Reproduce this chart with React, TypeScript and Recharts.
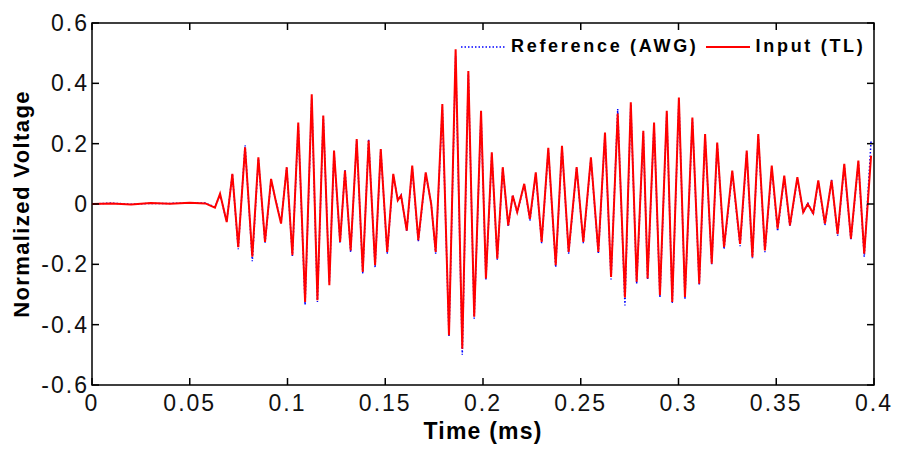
import React from "react";
import { LineChart, Line, XAxis, YAxis, ReferenceArea, Legend, Label } from "recharts";

// time in ms (peaks, troughs and the flat lead-in)
const time = [
  0, 0.01, 0.02, 0.03, 0.04, 0.05, 0.058, 0.0629, 0.0655, 0.0689,
  0.0718, 0.0748, 0.0783, 0.082, 0.0851, 0.0885, 0.0916, 0.094, 0.0967, 0.0996,
  0.1025, 0.1055, 0.109, 0.1124, 0.1153, 0.1183, 0.1214, 0.1238, 0.1269, 0.1294,
  0.1323, 0.1354, 0.1385, 0.1415, 0.1448, 0.1477, 0.151, 0.1541, 0.1564, 0.1581,
  0.161, 0.1638, 0.1669, 0.1707, 0.1735, 0.1758, 0.1792, 0.1826, 0.186, 0.1894,
  0.1925, 0.1955, 0.199, 0.2015, 0.2045, 0.2073, 0.2101, 0.2129, 0.2152, 0.2175,
  0.2211, 0.224, 0.227, 0.23, 0.2334, 0.2372, 0.2404, 0.2438, 0.2479, 0.2513,
  0.2552, 0.259, 0.2624, 0.2655, 0.2689, 0.2726, 0.2756, 0.2786, 0.282, 0.2842,
  0.2875, 0.2905, 0.294, 0.2968, 0.3002, 0.3033, 0.3071, 0.3106, 0.3136, 0.317,
  0.3198, 0.3233, 0.3275, 0.3315, 0.3349, 0.3378, 0.3408, 0.3442, 0.3477, 0.3507,
  0.3541, 0.357, 0.3608, 0.3638, 0.3661, 0.3689, 0.3715, 0.3749, 0.3783, 0.3814,
  0.3848, 0.3882, 0.392, 0.395, 0.3985,
];

const input = [
  0, 0.002, -0.002, 0.003, 0.001, 0.004, 0.002, -0.012, 0.034, -0.06,
  0.1, -0.143, 0.188, -0.175, 0.155, -0.126, 0.083, 0.01, -0.065, 0.122,
  -0.17, 0.27, -0.325, 0.364, -0.319, 0.293, -0.269, 0.177, -0.126, 0.111,
  -0.154, 0.215, -0.225, 0.21, -0.203, 0.182, -0.159, 0.1, 0.012, 0.028,
  -0.088, 0.127, -0.12, 0.105, 0.0, -0.159, 0.331, -0.435, 0.513, -0.48,
  0.441, -0.374, 0.309, -0.247, 0.171, -0.181, 0.122, -0.071, 0.028, -0.027,
  0.067, -0.049, 0.105, -0.126, 0.186, -0.203, 0.193, -0.159, 0.122, -0.126,
  0.155, -0.159, 0.237, -0.242, 0.3, -0.31, 0.337, -0.258, 0.243, -0.247,
  0.27, -0.302, 0.309, -0.325, 0.353, -0.308, 0.287, -0.264, 0.232, -0.198,
  0.204, -0.143, 0.111, -0.132, 0.177, -0.176, 0.232, -0.154, 0.127, -0.082,
  0.094, -0.071, 0.089, -0.027, 0.0, -0.03, 0.078, -0.065, 0.078, -0.099,
  0.133, -0.115, 0.144, -0.165, 0.16,
];

const reference = [
  0, 0.003, -0.001, 0.002, 0.002, 0.003, 0.003, -0.01, 0.03, -0.058,
  0.1, -0.15, 0.195, -0.19, 0.15, -0.13, 0.08, 0.012, -0.06, 0.12,
  -0.172, 0.26, -0.335, 0.35, -0.325, 0.29, -0.26, 0.17, -0.13, 0.115,
  -0.16, 0.21, -0.23, 0.215, -0.21, 0.18, -0.165, 0.095, 0.015, 0.03,
  -0.09, 0.12, -0.125, 0.1, 0.002, -0.165, 0.32, -0.44, 0.49, -0.5,
  0.43, -0.38, 0.3, -0.25, 0.165, -0.185, 0.12, -0.075, 0.03, -0.03,
  0.065, -0.055, 0.1, -0.13, 0.18, -0.21, 0.19, -0.165, 0.12, -0.13,
  0.15, -0.165, 0.23, -0.25, 0.315, -0.336, 0.33, -0.265, 0.235, -0.25,
  0.265, -0.31, 0.3, -0.33, 0.345, -0.315, 0.28, -0.27, 0.225, -0.2,
  0.2, -0.15, 0.105, -0.14, 0.17, -0.18, 0.225, -0.16, 0.12, -0.09,
  0.09, -0.075, 0.085, -0.03, 0.005, -0.035, 0.075, -0.07, 0.08, -0.105,
  0.128, -0.12, 0.14, -0.175, 0.21,
];

const xTicks = [0, 0.05, 0.1, 0.15, 0.2, 0.25, 0.3, 0.35, 0.4];
const yTicks = [-0.6, -0.4, -0.2, 0, 0.2, 0.4, 0.6];

const seriesNames = ["Reference (AWG)", "Input (TL)"];
const seriesColors = ["#0000ff", "#ff0000"];

const data = time.map((t, i) => ({ t, ref: reference[i], input: input[i] }));

const W = 888;
const H = 436;
const PLOT_TOP = 15;
const PLOT_RIGHT = 866;
const TICK = 7;
const FONT = '"Liberation Sans", Arial, sans-serif';

function XTick(props: any) {
  const { x, y, payload } = props;
  return (
    <g>
      <line x1={x} y1={y} x2={x} y2={y - TICK} stroke="#000" strokeWidth={1.5} />
      <line x1={x} y1={PLOT_TOP} x2={x} y2={PLOT_TOP + TICK} stroke="#000" strokeWidth={1.5} />
      <text
        x={x}
        y={y + 18}
        textAnchor="middle"
        dominantBaseline="central"
        fontFamily={FONT}
        fontSize={23}
        letterSpacing={2}
        fill="#111"
      >
        {String(payload.value)}
      </text>
    </g>
  );
}

function YTick(props: any) {
  const { x, y, payload } = props;
  return (
    <g>
      <line x1={x} y1={y} x2={x + TICK} y2={y} stroke="#000" strokeWidth={1.5} />
      <line x1={PLOT_RIGHT - TICK} y1={y} x2={PLOT_RIGHT} y2={y} stroke="#000" strokeWidth={1.5} />
      <text
        x={x - 3}
        y={y}
        textAnchor="end"
        dominantBaseline="central"
        fontFamily={FONT}
        fontSize={23}
        letterSpacing={2}
        fill="#111"
      >
        {String(payload.value)}
      </text>
    </g>
  );
}

function XTitle(props: any) {
  const vb = props.viewBox;
  return (
    <text
      x={vb.x + vb.width / 2}
      y={vb.y + 46}
      textAnchor="middle"
      dominantBaseline="central"
      fontFamily={FONT}
      fontWeight="bold"
      fontSize={23}
      letterSpacing={1.2}
    >
      Time (ms)
    </text>
  );
}

function YTitle(props: any) {
  const vb = props.viewBox;
  const cx = vb.x + 13;
  const cy = vb.y + vb.height / 2;
  return (
    <text
      x={cx}
      y={cy}
      transform={`rotate(-90, ${cx}, ${cy})`}
      textAnchor="middle"
      dominantBaseline="central"
      fontFamily={FONT}
      fontWeight="bold"
      fontSize={22}
      letterSpacing={1.4}
    >
      Normalized Voltage
    </text>
  );
}

function LegendBox() {
  return (
    <div
      style={{
        display: "flex",
        alignItems: "center",
        fontFamily: FONT,
        fontWeight: "bold",
        fontSize: 18,
        letterSpacing: 2.7,
        color: "#000",
        whiteSpace: "nowrap",
      }}
    >
      {seriesNames.map((name, i) => (
        <div key={name} style={{ display: "flex", alignItems: "center", marginRight: 6 }}>
          <svg width={46} height={10} style={{ marginRight: 5 }}>
            <line
              x1={1}
              y1={5}
              x2={45}
              y2={5}
              stroke={seriesColors[i]}
              strokeWidth={i === 0 ? 1.5 : 2}
              strokeDasharray={i === 0 ? "1.5 2" : undefined}
            />
          </svg>
          <span>{name}</span>
        </div>
      ))}
    </div>
  );
}

export default function App() {
  return (
    <div style={{ width: W, height: H, position: "relative", background: "#fff" }}>
      <LineChart
        width={W}
        height={H}
        data={data}
        margin={{ top: PLOT_TOP, right: W - PLOT_RIGHT, left: 0, bottom: 0 }}
      >
        <ReferenceArea
          x1={0}
          x2={0.4}
          y1={-0.6}
          y2={0.6}
          fill="none"
          stroke="#000"
          strokeWidth={1.5}
          ifOverflow="visible"
        />
        <XAxis
          dataKey="t"
          type="number"
          domain={[0, 0.4]}
          ticks={xTicks}
          interval={0}
          tickLine={false}
          axisLine={false}
          tickSize={0}
          tickMargin={0}
          height={59}
          tick={<XTick />}
        >
          <Label content={<XTitle />} />
        </XAxis>
        <YAxis
          type="number"
          domain={[-0.6, 0.6]}
          ticks={yTicks}
          interval={0}
          tickLine={false}
          axisLine={false}
          tickSize={0}
          tickMargin={0}
          width={84}
          tick={<YTick />}
        >
          <Label content={<YTitle />} />
        </YAxis>
        <Legend
          verticalAlign="middle"
          align="center"
          layout="horizontal"
          content={<LegendBox />}
          wrapperStyle={{ top: 28, left: 452, width: 430, height: 22 }}
        />
        <Line
          dataKey="ref"
          name={seriesNames[0]}
          type="linear"
          stroke={seriesColors[0]}
          strokeWidth={1.5}
          strokeDasharray="1.5 2"
          dot={false}
          isAnimationActive={false}
        />
        <Line
          dataKey="input"
          name={seriesNames[1]}
          type="linear"
          stroke={seriesColors[1]}
          strokeWidth={2}
          dot={false}
          isAnimationActive={false}
        />
      </LineChart>
    </div>
  );
}
